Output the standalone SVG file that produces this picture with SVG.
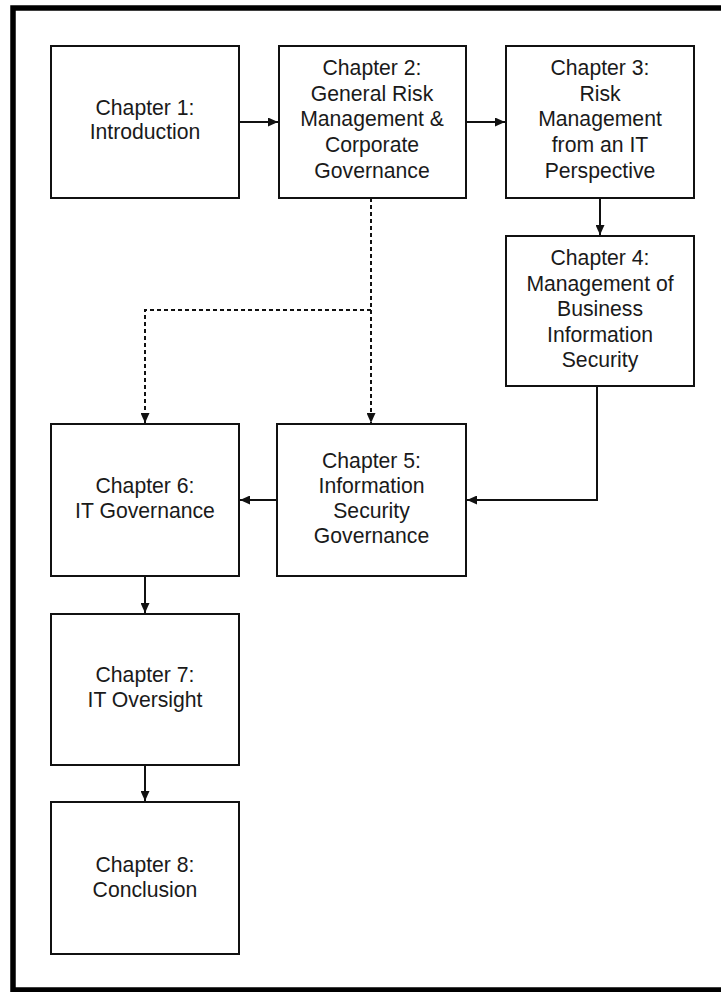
<svg xmlns="http://www.w3.org/2000/svg" width="721" height="992" viewBox="0 0 721 992">
  <style>
    .box { fill: #ffffff; stroke: #111111; stroke-width: 2; }
    .lbl { font-family: "Liberation Sans", Arial, sans-serif; font-size: 21.2px; fill: #1a1a1a; text-anchor: middle; }
    .link { fill: none; stroke: #111111; stroke-width: 2; }
    .dash { fill: none; stroke: #111111; stroke-width: 2; stroke-dasharray: 4 3; }
  </style>
  <defs>
    <marker id="arrow" markerUnits="userSpaceOnUse" markerWidth="10" markerHeight="9" refX="10" refY="4.5" orient="auto">
      <path d="M0,0 L10,4.5 L0,9 z" fill="#111111"/>
    </marker>
  </defs>

  <rect width="721" height="992" fill="#ffffff"/>

  <!-- outer frame -->
  <rect x="13" y="8" width="720" height="982" fill="none" stroke="#000000" stroke-width="5.5"/>

  <!-- connectors -->
  <g id="connectors">
    <line class="link" x1="239" y1="122" x2="278" y2="122" marker-end="url(#arrow)"/>
    <line class="link" x1="466" y1="122" x2="505" y2="122" marker-end="url(#arrow)"/>
    <line class="link" x1="600" y1="198" x2="600" y2="235" marker-end="url(#arrow)"/>
    <polyline class="dash" points="371,198 371,423" marker-end="url(#arrow)"/>
    <polyline class="dash" points="371,310 145,310 145,423" marker-end="url(#arrow)"/>
    <polyline class="link" points="597,386 597,500 467,500" marker-end="url(#arrow)"/>
    <line class="link" x1="277" y1="500" x2="240" y2="500" marker-end="url(#arrow)"/>
    <line class="link" x1="145" y1="576" x2="145" y2="613" marker-end="url(#arrow)"/>
    <line class="link" x1="145" y1="765" x2="145" y2="801" marker-end="url(#arrow)"/>
  </g>

  <g id="ch1">
    <rect class="box" x="51" y="46" width="188" height="152"/>
    <text class="lbl" x="145" y="114.5">Chapter 1:</text>
    <text class="lbl" x="145" y="138.5">Introduction</text>
  </g>

  <g id="ch2">
    <rect class="box" x="279" y="46" width="187" height="152"/>
    <text class="lbl" x="372" y="75">Chapter 2:</text>
    <text class="lbl" x="372" y="100.7">General Risk</text>
    <text class="lbl" x="372" y="126.4">Management &amp;</text>
    <text class="lbl" x="372" y="152.1">Corporate</text>
    <text class="lbl" x="372" y="177.8">Governance</text>
  </g>

  <g id="ch3">
    <rect class="box" x="506" y="46" width="188" height="152"/>
    <text class="lbl" x="600" y="75">Chapter 3:</text>
    <text class="lbl" x="600" y="100.7">Risk</text>
    <text class="lbl" x="600" y="126.4">Management</text>
    <text class="lbl" x="600" y="152.1">from an IT</text>
    <text class="lbl" x="600" y="177.8">Perspective</text>
  </g>

  <g id="ch4">
    <rect class="box" x="506" y="236" width="188" height="150"/>
    <text class="lbl" x="600" y="265">Chapter 4:</text>
    <text class="lbl" x="600" y="290.5">Management of</text>
    <text class="lbl" x="600" y="316">Business</text>
    <text class="lbl" x="600" y="341.5">Information</text>
    <text class="lbl" x="600" y="367">Security</text>
  </g>

  <g id="ch5">
    <rect class="box" x="277" y="424" width="189" height="152"/>
    <text class="lbl" x="371.5" y="468.3">Chapter 5:</text>
    <text class="lbl" x="371.5" y="493.3">Information</text>
    <text class="lbl" x="371.5" y="518.3">Security</text>
    <text class="lbl" x="371.5" y="543">Governance</text>
  </g>

  <g id="ch6">
    <rect class="box" x="51" y="424" width="188" height="152"/>
    <text class="lbl" x="145" y="493.3">Chapter 6:</text>
    <text class="lbl" x="145" y="518.3">IT Governance</text>
  </g>

  <g id="ch7">
    <rect class="box" x="51" y="614" width="188" height="151"/>
    <text class="lbl" x="145" y="681.7">Chapter 7:</text>
    <text class="lbl" x="145" y="707">IT Oversight</text>
  </g>

  <g id="ch8">
    <rect class="box" x="51" y="802" width="188" height="152"/>
    <text class="lbl" x="145" y="871.7">Chapter 8:</text>
    <text class="lbl" x="145" y="896.7">Conclusion</text>
  </g>
</svg>
